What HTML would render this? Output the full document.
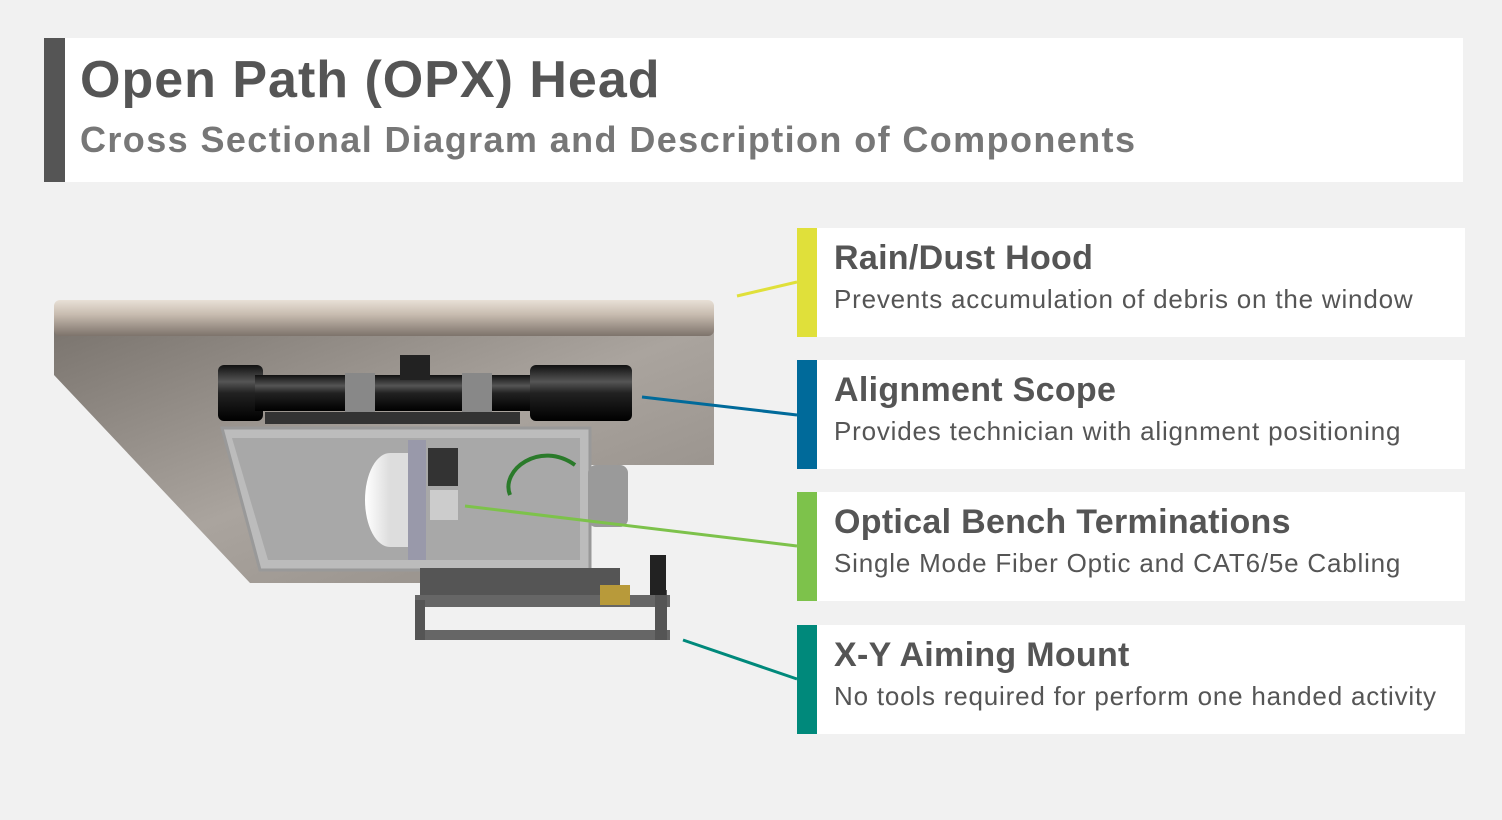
<!DOCTYPE html>
<html><head><meta charset="utf-8"><style>
body{margin:0;width:1502px;height:820px;background:#f1f1f1;font-family:"Liberation Sans",sans-serif;position:relative;overflow:hidden;color:#555}
.hdr{position:absolute;left:44px;top:38px;width:1419px;height:144px;background:#fff}
.hdr .bar{position:absolute;left:0;top:0;width:21px;height:144px;background:#555}
.t1{position:absolute;left:36px;top:12px;font-size:52px;font-weight:bold;color:#555;letter-spacing:1px;white-space:nowrap}
.t2{position:absolute;left:36px;top:81px;font-size:36px;font-weight:bold;color:#777;white-space:nowrap;letter-spacing:1.4px}
.card{position:absolute;left:797px;width:668px;height:109px;background:#fff}
.card .b{position:absolute;left:0;top:0;width:20px;height:100%}
.card h3{position:absolute;left:37px;top:11px;margin:0;font-size:34px;font-weight:bold;white-space:nowrap;letter-spacing:0.3px}
.card p{position:absolute;left:37px;top:56px;margin:0;font-size:26px;white-space:nowrap;letter-spacing:0.8px}
</style></head><body>
<div class="hdr"><div class="bar"></div><div class="t1">Open Path (OPX) Head</div><div class="t2">Cross Sectional Diagram and Description of Components</div></div>

<svg width="1502" height="820" style="position:absolute;left:0;top:0">
<defs>
<linearGradient id="tube" x1="0" y1="0" x2="0" y2="1"><stop offset="0" stop-color="#e8e0d6"/><stop offset=".4" stop-color="#c8bcb0"/><stop offset="1" stop-color="#7d736b"/></linearGradient>
<linearGradient id="hood" x1="0" y1="0" x2="1" y2="1"><stop offset="0" stop-color="#7a746e"/><stop offset=".5" stop-color="#aaa49e"/><stop offset="1" stop-color="#8f8983"/></linearGradient>
<linearGradient id="scope" x1="0" y1="0" x2="0" y2="1"><stop offset="0" stop-color="#111"/><stop offset=".3" stop-color="#555"/><stop offset=".5" stop-color="#222"/><stop offset="1" stop-color="#000"/></linearGradient>
<linearGradient id="cyl" x1="0" y1="0" x2="1" y2="0"><stop offset="0" stop-color="#fff"/><stop offset="1" stop-color="#bbb"/></linearGradient>
</defs>
<polygon points="54,325 714,325 714,465 590,465 590,583 250,583 54,375" fill="url(#hood)"/>
<rect x="54" y="300" width="660" height="36" rx="6" fill="url(#tube)"/>
<rect x="218" y="365" width="45" height="56" rx="6" fill="url(#scope)"/>
<rect x="255" y="375" width="300" height="36" fill="url(#scope)"/>
<rect x="530" y="365" width="102" height="56" rx="6" fill="url(#scope)"/>
<rect x="400" y="355" width="30" height="25" fill="#222"/>
<rect x="345" y="373" width="30" height="40" fill="#888"/><rect x="462" y="373" width="30" height="40" fill="#888"/>
<rect x="265" y="412" width="255" height="12" fill="#333"/>
<polygon points="222,428 590,428 590,570 260,570" fill="#bcbcbc" stroke="#999" stroke-width="3"/>
<polygon points="232,438 580,438 580,560 268,560" fill="#a8a8a8"/>
<ellipse cx="390" cy="500" rx="25" ry="47" fill="url(#cyl)"/>
<rect x="390" y="453" width="20" height="94" fill="#ddd"/>
<rect x="408" y="440" width="18" height="120" fill="#99a"/>
<rect x="428" y="448" width="30" height="38" fill="#333"/>
<rect x="430" y="490" width="28" height="30" fill="#ccc"/>
<path d="M510,495 C500,470 540,440 575,465" fill="none" stroke="#2a7a2a" stroke-width="4"/>
<rect x="588" y="465" width="40" height="62" rx="8" fill="#9a9a9a"/>
<rect x="420" y="568" width="200" height="30" fill="#555"/>
<rect x="415" y="595" width="255" height="12" fill="#666"/>
<rect x="415" y="630" width="255" height="10" fill="#666"/>
<rect x="415" y="600" width="10" height="40" fill="#555"/><rect x="655" y="590" width="12" height="50" fill="#555"/>
<rect x="600" y="585" width="30" height="20" fill="#b89a3a"/><rect x="650" y="555" width="16" height="40" fill="#222"/>
<line x1="737" y1="296" x2="797" y2="282" stroke="#e0e03a" stroke-width="3"/>
<line x1="642" y1="397" x2="797" y2="415" stroke="#006a9a" stroke-width="3"/>
<line x1="465" y1="506" x2="797" y2="546" stroke="#7dc24b" stroke-width="3"/>
<line x1="683" y1="640" x2="797" y2="679" stroke="#00897b" stroke-width="3"/>
</svg>

<div class="card" style="top:228px"><div class="b" style="background:#e0e03a"></div><h3>Rain/Dust Hood</h3><p>Prevents accumulation of debris on the window</p></div>
<div class="card" style="top:360px"><div class="b" style="background:#006a9a"></div><h3>Alignment Scope</h3><p>Provides technician with alignment positioning</p></div>
<div class="card" style="top:492px"><div class="b" style="background:#7dc24b"></div><h3>Optical Bench Terminations</h3><p>Single Mode Fiber Optic and CAT6/5e Cabling</p></div>
<div class="card" style="top:625px"><div class="b" style="background:#00897b"></div><h3>X-Y Aiming Mount</h3><p>No tools required for perform one handed activity</p></div>
</body></html>
